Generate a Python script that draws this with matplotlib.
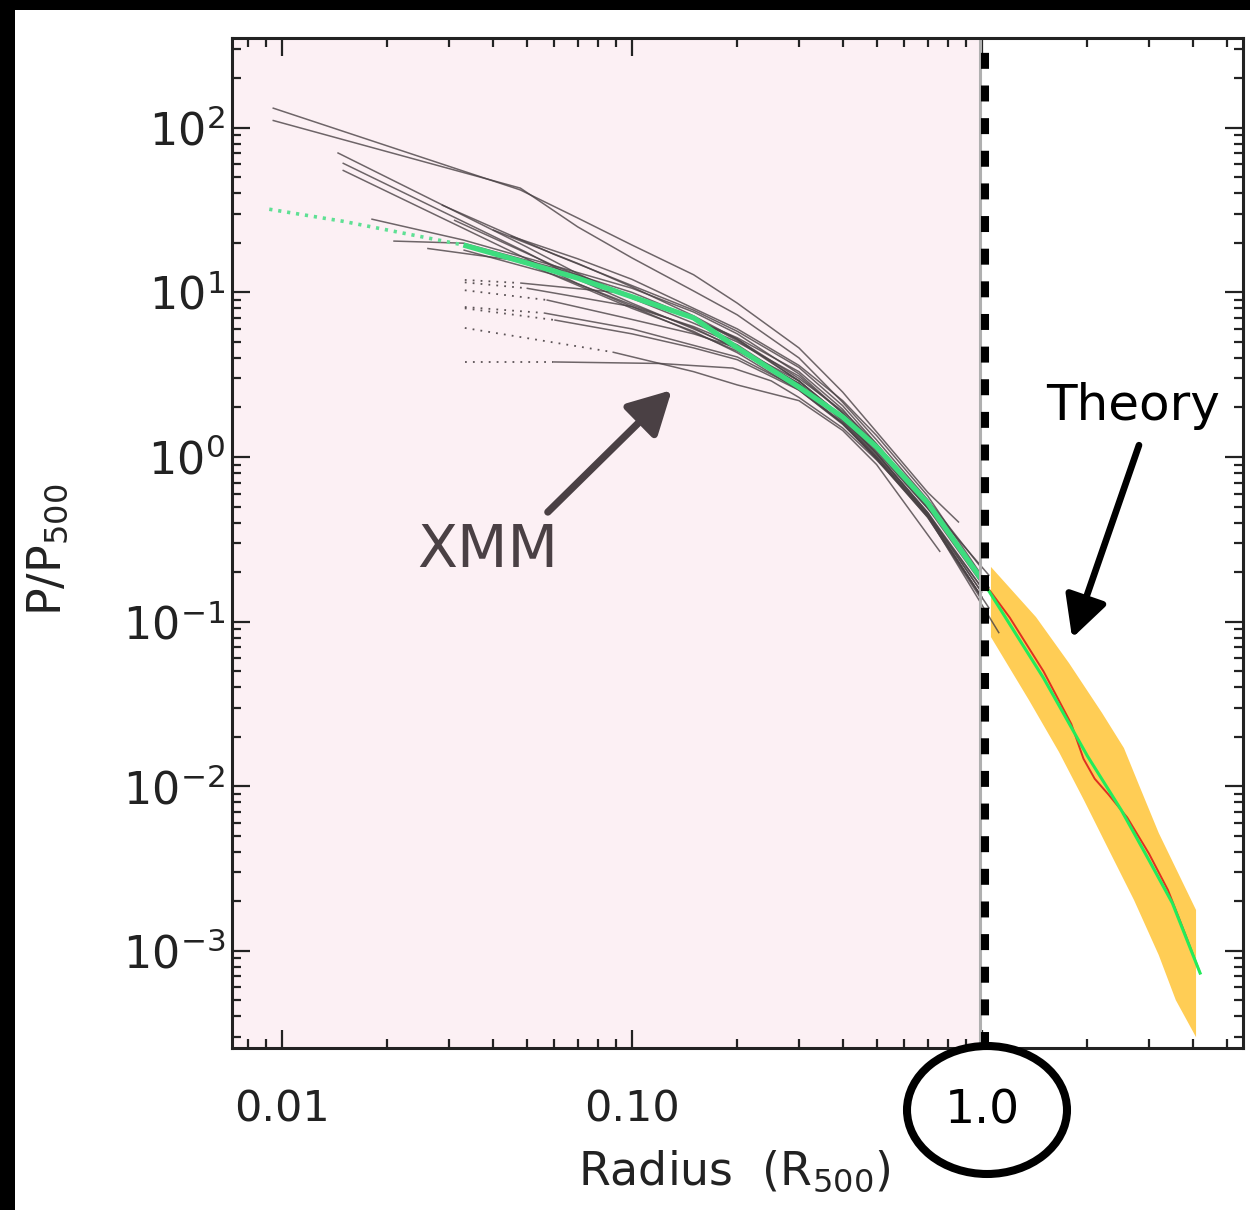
import matplotlib
matplotlib.use("Agg")
import matplotlib.pyplot as plt
from matplotlib.patches import Ellipse, Rectangle
from matplotlib.ticker import LogLocator, NullFormatter, FixedLocator

plt.rcParams['font.family'] = ['DejaVu Sans']
plt.rcParams['mathtext.default'] = 'regular'
plt.rcParams['lines.scale_dashes'] = False

# ---------------- data ----------------
# universal model (green), dotted extrapolation and solid part
model_dot_r = [0.0092, 0.015, 0.022, 0.033]
model_dot_p = [32.0, 27.0, 23.0, 19.4]
model_r = [0.033, 0.05, 0.07, 0.1, 0.15, 0.2, 0.3, 0.4, 0.5, 0.7, 1.0]
model_p = [19.4, 15.1, 12.2, 9.4, 7.0, 4.6, 2.66, 1.75, 1.15, 0.525, 0.179]

# theory mean (green) beyond R500
theory_r = [1.0, 1.5, 2.0, 2.5, 3.0, 3.5, 4.2]
theory_p = [0.179, 0.0454, 0.0153, 0.00717, 0.00356, 0.00195, 0.000733]

# simulation median (red)
sim_r = [1.0, 1.2, 1.5, 1.8, 1.95, 2.1, 2.3, 2.6, 3.0, 3.4, 3.8, 4.2]
sim_p = [0.179, 0.106, 0.0498, 0.0239, 0.0147, 0.0111, 0.0089, 0.00646,
         0.0039, 0.00234, 0.00128, 0.000733]

# theory scatter band (yellow)
band_hi_r = [1.061, 1.427, 1.773, 2.203, 2.545, 2.81, 3.2, 4.09]
band_hi = [0.215, 0.1066, 0.056, 0.0279, 0.01706, 0.01017, 0.0052, 0.00177]
band_lo_r = [1.061, 1.362, 1.66, 1.956, 2.306, 2.718, 3.2, 3.58, 4.09]
band_lo = [0.0806, 0.0334, 0.01614, 0.00824, 0.00409, 0.00204, 0.000943,
           0.000502, 0.000299]

# XMM pressure profiles (grey); index at which the solid part begins
xmm_r = [
    [0.0094, 0.048, 0.07, 0.1, 0.15, 0.2, 0.3, 0.4, 0.5, 0.7, 0.86],
    [0.0094, 0.048, 0.07, 0.1, 0.15, 0.2, 0.3, 0.4, 0.5, 0.7, 1.0],
    [0.0144, 0.05, 0.07, 0.1, 0.15, 0.2, 0.3, 0.4, 0.5, 0.7, 0.95],
    [0.0149, 0.05, 0.07, 0.1, 0.15, 0.2, 0.3, 0.4, 0.5, 0.76],
    [0.0149, 0.05, 0.07, 0.1, 0.15, 0.2, 0.3, 0.4, 0.5, 0.7, 1.0],
    [0.0286, 0.06, 0.1, 0.15, 0.2, 0.3, 0.4, 0.5, 0.7, 1.05],
    [0.031, 0.06, 0.1, 0.15, 0.2, 0.3, 0.4, 0.5, 0.8],
    [0.018, 0.033, 0.06, 0.1, 0.15, 0.2, 0.3, 0.4, 0.5, 0.7, 1.0],
    [0.0208, 0.033, 0.06, 0.1, 0.15, 0.2, 0.3, 0.4, 0.5, 0.7, 1.0],
    [0.033, 0.06, 0.1, 0.15, 0.2, 0.3, 0.4, 0.5, 0.7, 1.0],
    [0.026, 0.048, 0.1, 0.15, 0.2, 0.3, 0.4, 0.5, 0.7, 1.0],
    [0.045, 0.07, 0.1, 0.15, 0.2, 0.3, 0.4, 0.5, 0.7, 1.0],
    [0.04, 0.07, 0.1, 0.15, 0.2, 0.3, 0.4, 0.5, 0.7, 1.05],
    [0.0333, 0.048, 0.09, 0.15, 0.2, 0.3, 0.4, 0.5, 0.7, 1.0],
    [0.0333, 0.05, 0.1, 0.15, 0.2, 0.3, 0.4, 0.5, 0.7, 1.0],
    [0.0333, 0.057, 0.093, 0.15, 0.2, 0.3, 0.4, 0.5, 0.7, 1.05],
    [0.0333, 0.056, 0.1, 0.2, 0.3, 0.4, 0.5, 0.7, 1.0],
    [0.0333, 0.06, 0.1, 0.15, 0.2, 0.3, 0.4, 0.5, 0.7, 1.12],
    [0.0333, 0.088, 0.15, 0.2, 0.3, 0.4, 0.5, 0.76],
    [0.0333, 0.0594, 0.12, 0.194, 0.25, 0.3, 0.4, 0.5, 0.7, 1.0],
]
xmm_p = [
    [132, 41.9, 28.3, 19.4, 12.8, 8.6, 4.6, 2.48, 1.42, 0.61, 0.40],
    [111, 43.0, 25.0, 16.2, 10.2, 7.3, 4.0, 2.15, 1.27, 0.55, 0.21],
    [70.6, 18.9, 13.0, 9.2, 6.5, 5.0, 3.1, 1.85, 1.15, 0.50, 0.22],
    [61.1, 17.5, 12.0, 8.6, 6.0, 4.6, 2.9, 1.75, 1.08, 0.40],
    [55.3, 16.0, 11.3, 8.2, 5.7, 4.4, 2.8, 1.70, 1.05, 0.46, 0.16],
    [34.0, 17.0, 11.0, 7.8, 5.8, 3.5, 2.05, 1.2, 0.52, 0.19],
    [27.5, 14.5, 9.5, 6.9, 5.3, 3.3, 1.95, 1.13, 0.36],
    [27.9, 20.8, 14.5, 10.6, 7.6, 5.6, 3.2, 1.85, 1.1, 0.49, 0.17],
    [20.5, 19.9, 14.1, 10.0, 7.0, 5.1, 2.9, 1.7, 1.05, 0.46, 0.15],
    [18.1, 12.8, 8.4, 6.1, 4.5, 2.6, 1.62, 1.0, 0.44, 0.14],
    [18.5, 15.5, 8.0, 5.8, 4.3, 2.55, 1.58, 0.98, 0.43, 0.135],
    [22.0, 16.0, 12.0, 8.0, 6.0, 3.6, 2.2, 1.35, 0.58, 0.19],
    [24.0, 15.0, 10.8, 7.2, 5.2, 3.0, 1.9, 1.2, 0.52, 0.16],
    [11.9, 11.4, 10.0, 6.9, 5.2, 2.9, 1.75, 1.05, 0.45, 0.15],
    [11.5, 10.6, 8.2, 6.2, 4.8, 2.75, 1.68, 1.02, 0.45, 0.14],
    [10.3, 9.0, 7.1, 5.6, 4.6, 2.8, 1.65, 1.0, 0.44, 0.12],
    [8.15, 7.5, 6.0, 4.05, 2.6, 1.6, 0.97, 0.43, 0.14],
    [8.0, 6.8, 5.6, 4.6, 3.9, 2.55, 1.6, 0.98, 0.44, 0.085],
    [6.08, 4.34, 3.3, 2.74, 2.2, 1.45, 0.9, 0.265],
    [3.78, 3.78, 3.7, 3.47, 2.9, 2.3, 1.5, 0.96, 0.45, 0.16],
]
xmm_solid_from = [0] * 13 + [1] * 7

x_ticks = [0.01, 0.1, 1.0]
x_ticklabels = ['0.01', '0.10', '1.0']
y_ticks = [1e-3, 1e-2, 1e-1, 1e0, 1e1, 1e2]
y_ticklabels = ['$10^{-3}$', '$10^{-2}$', '$10^{-1}$', '$10^{0}$', '$10^{1}$',
                '$10^{2}$']

# ---------------- figure ----------------
W, H = 1250, 1210
fig = plt.figure(figsize=(W / 100, H / 100), dpi=100, facecolor='white')
ax = fig.add_axes([232 / W, 1 - 1048 / H, (1243 - 232) / W, (1048 - 38) / H])
ax.set_xscale('log')
ax.set_yscale('log')
xmin, xmax = 0.0072, 5.57
ax.set_xlim(xmin, xmax)
ax.set_ylim(2.57e-4, 351)

# black frame strips of the original image
fig.add_artist(Rectangle((0, 0), 15 / W, 1, transform=fig.transFigure,
                         color='black', lw=0, zorder=10))
fig.add_artist(Rectangle((0, 1 - 10 / H), 1, 10 / H, transform=fig.transFigure,
                         color='black', lw=0, zorder=10))

# pink region inside R500
ax.axvspan(xmin, 0.99, color='#fcf0f4', lw=0, zorder=0)

# yellow theory band
ax.fill(band_hi_r + band_lo_r[::-1], band_hi + band_lo[::-1],
        color='#ffcd55', lw=0, zorder=2)

# XMM profiles
grey = '#4a4245'
for r, p, i0 in zip(xmm_r, xmm_p, xmm_solid_from):
    if i0 > 0:
        ax.plot(r[:i0 + 1], p[:i0 + 1], color=grey, lw=1.3,
                dashes=(1.3, 4.4), alpha=0.9, zorder=3)
    ax.plot(r[i0:], p[i0:], color=grey, lw=1.1, alpha=0.8, zorder=3,
            solid_capstyle='butt')

# green model
ax.plot(model_dot_r, model_dot_p, color='#5fe094', lw=2.6,
        dashes=(2.3, 4.2), zorder=4)
ax.plot(model_r, model_p, color='#3ddc7e', lw=3.8, zorder=4,
        solid_capstyle='butt')
# red simulation + green theory
ax.plot(sim_r, sim_p, color='#e03020', lw=1.4, zorder=5)
ax.plot(theory_r, theory_p, color='#22ec5a', lw=2.2, zorder=6)

# R500 vertical marker
ax.axvline(0.99, color='#b0b0b0', lw=2.2, zorder=7)
ax.axvline(1.023, color='black', lw=5.8, dashes=(11.5, 12.0), zorder=8)

# ticks
ax.xaxis.set_major_locator(FixedLocator(x_ticks))
ax.set_xticklabels(x_ticklabels)
ax.xaxis.set_minor_locator(LogLocator(base=10, subs=range(2, 10), numticks=20))
ax.xaxis.set_minor_formatter(NullFormatter())
ax.yaxis.set_major_locator(FixedLocator(y_ticks))
ax.set_yticklabels(y_ticklabels)
ax.yaxis.set_minor_locator(LogLocator(base=10, subs=range(2, 10), numticks=20))
ax.yaxis.set_minor_formatter(NullFormatter())
ax.tick_params(which='both', direction='in', top=True, right=True,
               width=1.6, color='#222222', labelcolor='#222222')
ax.tick_params(which='major', length=13)
ax.tick_params(which='minor', length=6.5)
ax.tick_params(axis='x', which='major', pad=29, labelsize=31)
ax.tick_params(axis='y', which='major', pad=5, labelsize=32)
for lab in ax.get_xticklabels():
    if lab.get_text() == '1.0':
        lab.set_fontsize(34)
        lab.set_color('black')
for s in ax.spines.values():
    s.set_linewidth(2.2)
    s.set_color('#222222')
    s.set_zorder(9)

# circle around 1.0
fig.add_artist(Ellipse((987 / W, 1 - 1110 / H), 160 / W, 128 / H,
                       transform=fig.transFigure, fill=False, lw=5.8,
                       ec='black', zorder=11))

# axis labels
fig.text(734 / W, 1 - 1185 / H, 'Radius  (R$_{500}$)', fontsize=33,
         ha='center', va='baseline', color='#222222')
fig.text(48 / W, 1 - 550 / H, 'P/P$_{500}$', fontsize=33, rotation=90,
         ha='center', va='center', color='#222222')

# annotations
xmm_col = '#4a4044'
ax.annotate('', xy=(0.130, 2.55), xytext=(0.0575, 0.463),
            arrowprops=dict(arrowstyle='-|>,head_length=1.3,head_width=0.7',
                            color=xmm_col, lw=5.2, shrinkA=0, shrinkB=0,
                            mutation_scale=20), zorder=10)
fig.text(488 / W, 1 - 567 / H, 'XMM', fontsize=42, color=xmm_col,
         ha='center', va='baseline')
ax.annotate('', xy=(1.81, 0.0795), xytext=(2.81, 1.18),
            arrowprops=dict(arrowstyle='-|>,head_length=1.25,head_width=0.65',
                            color='black', lw=4.8, shrinkA=0, shrinkB=0,
                            mutation_scale=20), zorder=10)
fig.text(1133 / W, 1 - 420 / H, 'Theory', fontsize=36, color='black',
         ha='center', va='baseline')

fig.savefig('out.png', dpi=100, facecolor='white')
